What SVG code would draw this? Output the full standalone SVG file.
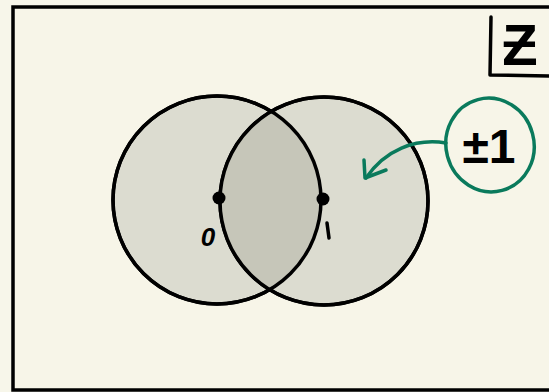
<svg xmlns="http://www.w3.org/2000/svg" width="549" height="392" viewBox="0 0 549 392">
<defs>
<style>
.ink{fill:none;stroke:#000;stroke-width:3.5;stroke-linecap:round;stroke-linejoin:round}
.circ{fill:#dcdcd0;stroke:#000;stroke-width:3.5}
.green{fill:none;stroke:#0a7a5c;stroke-width:3.5;stroke-linecap:round;stroke-linejoin:round}
.hand{font-family:"Liberation Sans",sans-serif;font-weight:bold;fill:#000}
</style>
<clipPath id="clipL"><circle cx="217" cy="200" r="104"/></clipPath>
</defs>
<rect width="549" height="392" fill="#f7f6ea"/>
<g id="frame">
<rect x="13" y="7" width="560" height="383" fill="#f7f5e8" stroke="#000" stroke-width="3.5"/>
</g>
<g id="set-label">
<path class="ink" d="M491 17 L490 75 L549 76"/>
<text class="hand" x="520" y="65" font-size="58" text-anchor="middle">Ƶ</text>
</g>
<g id="circle-0">
<circle class="circ" cx="217" cy="200" r="104"/>
</g>
<g id="circle-1">
<circle class="circ" cx="324" cy="201" r="104"/>
<circle cx="324" cy="201" r="104" fill="#c6c6b9" clip-path="url(#clipL)"/>
<circle cx="217" cy="200" r="104" fill="none" stroke="#000" stroke-width="3.5"/>
<circle cx="324" cy="201" r="104" fill="none" stroke="#000" stroke-width="3.5"/>
</g>
<g id="point-0">
<circle cx="219" cy="198" r="6.5" fill="#000"/>
<text class="hand" x="208" y="246" font-size="26" font-style="italic" text-anchor="middle">0</text>
</g>
<g id="point-1">
<circle cx="323" cy="199" r="6.5" fill="#000"/>
<path class="ink" d="M327 223 L329 238" stroke-width="4.5"/>
</g>
<g id="label-pm1">
<ellipse class="green" cx="490" cy="145" rx="44" ry="47" transform="rotate(-15 490 145)"/>
<text class="hand" x="489" y="163" font-size="48" text-anchor="middle">±1</text>
</g>
<g id="connectors">
<path class="green" d="M446 143 C415 138 385 150 366 178"/>
<path class="green" d="M364 160 L365 178 L386 170"/>
</g>
</svg>
